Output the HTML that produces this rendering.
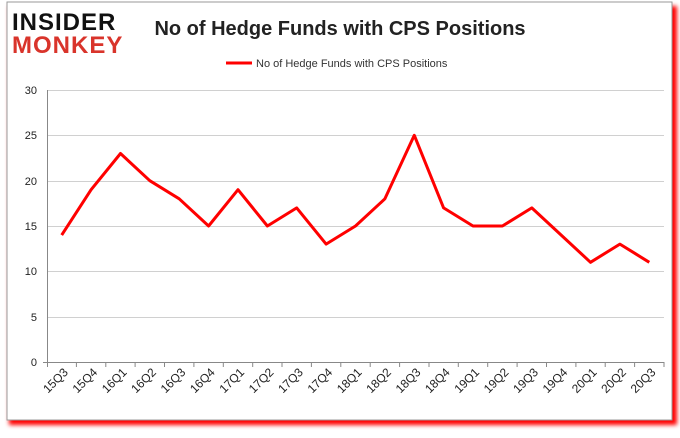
<!DOCTYPE html>
<html><head><style>
body{margin:0;background:#fff;width:680px;height:433px;overflow:hidden;font-family:"Liberation Sans",sans-serif}
</style></head><body>
<svg width="680" height="433" xmlns="http://www.w3.org/2000/svg" font-family="Liberation Sans, sans-serif">
<defs><filter id="s" x="-5%" y="-5%" width="110%" height="115%"><feGaussianBlur stdDeviation="2"/></filter></defs>
<rect x="9" y="6" width="668" height="419" fill="#f00" filter="url(#s)"/>
<rect x="7" y="2" width="665" height="418" fill="#fff" stroke="#999" stroke-width="1"/>
<text x="12" y="30" font-size="24" font-weight="bold" fill="#111" letter-spacing="1">INSIDER</text>
<text x="12" y="53" font-size="24" font-weight="bold" fill="#d9342b" letter-spacing="1">MONKEY</text>
<text x="340" y="35" font-size="20" font-weight="bold" text-anchor="middle" fill="#222">No of Hedge Funds with CPS Positions</text>
<line x1="226" y1="63" x2="252" y2="63" stroke="#f00" stroke-width="3"/>
<text x="256" y="67" font-size="11" fill="#333">No of Hedge Funds with CPS Positions</text>
<g stroke="#d0d0d0" stroke-width="1">
<line x1="47" y1="90.5" x2="664" y2="90.5"/><line x1="47" y1="135.5" x2="664" y2="135.5"/>
<line x1="47" y1="181.5" x2="664" y2="181.5"/><line x1="47" y1="226.5" x2="664" y2="226.5"/>
<line x1="47" y1="271.5" x2="664" y2="271.5"/><line x1="47" y1="317.5" x2="664" y2="317.5"/>
</g>
<g stroke="#888" stroke-width="1">
<line x1="47.5" y1="90" x2="47.5" y2="363"/><line x1="43" y1="362.5" x2="664" y2="362.5"/>
</g>
<g font-size="11" fill="#222" text-anchor="end">
<text x="37" y="94">30</text><text x="37" y="139">25</text><text x="37" y="185">20</text>
<text x="37" y="230">15</text><text x="37" y="275">10</text><text x="37" y="321">5</text><text x="37" y="366">0</text>
</g>
<g id="ticks" stroke="#888"></g>
<g id="labs" font-size="12" fill="#222" text-anchor="end"></g>
<polyline id="ln" fill="none" stroke="#f00" stroke-width="3" stroke-linejoin="round"/>
</svg>
<script>
var d=[14,19,23,20,18,15,19,15,17,13,15,18,25,17,15,15,17,14,11,13,11];
var L=["15Q3","15Q4","16Q1","16Q2","16Q3","16Q4","17Q1","17Q2","17Q3","17Q4","18Q1","18Q2","18Q3","18Q4","19Q1","19Q2","19Q3","19Q4","20Q1","20Q2","20Q3"];
var w=617/21,p=[],t="",l="";
for(var i=0;i<21;i++){var x=47+w*(i+0.5);p.push(x.toFixed(1)+","+(362-d[i]*272/30).toFixed(1));
var tx=47+w*(i+1);t+='<line x1="'+tx.toFixed(1)+'" y1="362" x2="'+tx.toFixed(1)+'" y2="367"/>';
l+='<text transform="translate('+(x+7).toFixed(1)+',373) rotate(-45)">'+L[i]+'</text>';}
t+='<line x1="47.5" y1="362" x2="47.5" y2="367"/>';
document.getElementById("ln").setAttribute("points",p.join(" "));
document.getElementById("ticks").innerHTML=t;document.getElementById("labs").innerHTML=l;
</script>
</body></html>
